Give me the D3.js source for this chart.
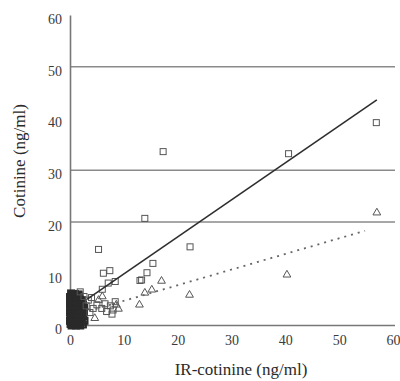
<!DOCTYPE html>
<html>
<head>
<meta charset="utf-8">
<script src="https://cdn.jsdelivr.net/npm/d3@7"></script>
<style>
  body { margin: 0; background: #fff; }
  svg { display: block; }
  text { font-family: "Liberation Serif", "DejaVu Serif", serif; fill: #333; }
</style>
</head>
<body>
<svg id="chart" width="400" height="381"></svg>
<script>
// axis ticks
const xTicks = [0, 10, 20, 30, 40, 50, 60];
const yTicks = [0, 10, 20, 30, 40, 50, 60];
const gridValues = [20, 30, 50];

// open squares (IR-cotinine, cotinine)
const squarePts = [
    [17.3, 33.6], [40.6, 33.2], [56.9, 39.2], [13.9, 20.7], [5.3, 14.7], [22.3, 15.2],
    [6.2, 10.1], [7.4, 10.6], [7.1, 8.2], [8.4, 8.5], [13.0, 8.7], [14.3, 10.2],
    [15.4, 12.0], [13.3, 8.8], [1.9, 6.5], [2.6, 5.6], [3.4, 4.9], [4.3, 3.3],
    [3.7, 2.5], [5.9, 3.3], [6.8, 2.7], [8.0, 3.0], [8.4, 4.6], [6.5, 4.2],
    [7.5, 3.8], [5.0, 4.0], [4.0, 5.4], [7.8, 2.2], [3.0, 3.8], [6.0, 7.0]
];

// open triangles
const trianglePts = [
    [57.0, 21.8], [40.3, 9.8], [22.2, 5.9], [17.0, 8.6], [15.2, 6.9], [13.9, 6.3],
    [12.9, 4.0], [5.3, 4.9], [4.6, 1.4], [8.6, 4.0], [6.0, 5.6], [9.0, 3.2]
];

// dense cluster near the origin
const clusterPts = [
    [0.1, 0.3], [0.4, 0.6], [0.8, 0.2], [1.2, 0.5], [1.6, 0.3], [2.0, 0.6],
    [0.2, 1.1], [0.6, 1.4], [1.0, 1.0], [1.4, 1.3], [1.8, 1.1], [2.2, 1.4],
    [0.1, 1.9], [0.5, 2.2], [0.9, 1.8], [1.3, 2.1], [1.7, 1.9], [2.1, 2.2],
    [0.3, 2.7], [0.7, 3.0], [1.1, 2.6], [1.5, 2.9], [1.9, 2.7], [2.3, 3.0],
    [0.1, 3.5], [0.5, 3.8], [0.9, 3.4], [1.3, 3.7], [1.7, 3.5], [2.1, 3.8],
    [0.3, 4.3], [0.7, 4.6], [1.1, 4.2], [1.5, 4.5], [1.9, 4.3], [0.2, 5.1],
    [0.6, 5.4], [1.0, 5.0], [1.4, 5.3], [1.8, 5.1], [0.4, 5.9], [0.9, 6.1],
    [1.3, 5.8], [0.0, 0.9], [0.0, 2.5], [0.0, 4.0], [0.0, 5.5], [2.4, 0.2],
    [2.5, 1.8], [2.6, 2.6], [2.4, 4.1], [2.7, 0.9], [0.3, 0.0], [1.1, 0.0],
    [1.9, 0.0], [2.6, 3.4], [2.2, 4.9], [1.6, 6.0], [0.5, 0.1], [1.5, 0.8],
    [0.3, 1.6], [1.2, 1.6], [2.0, 1.7], [0.6, 2.5], [1.6, 2.4], [0.4, 3.2],
    [1.2, 3.1], [2.0, 3.2], [0.8, 3.9], [1.7, 4.0], [0.5, 4.8], [1.3, 4.8],
    [2.0, 4.6], [0.8, 5.6], [1.7, 5.6], [0.2, 6.2]
];

// fitted lines: [x, y] end points
const solidFit = [[3.2, 5.1], [57.0, 43.6]];
const dottedFit = [[3.5, 2.8], [54.8, 18.3]];

const svg = d3.select("#chart");

const x = d3.scaleLinear().domain([0, 60]).range([70, 393]);
const y = d3.scaleLinear().domain([0, 60]).range([325.5, 15]);

// horizontal reference lines
svg.append("g")
    .selectAll("line")
    .data(gridValues)
    .join("line")
    .attr("x1", x(0))
    .attr("x2", 395)
    .attr("y1", d => y(d))
    .attr("y2", d => y(d))
    .style("stroke", "#8a8a8a")
    .style("stroke-width", 1.3);

// axes
const yAxis = svg.append("g")
    .attr("transform", `translate(${x(0)},0)`)
    .call(d3.axisLeft(y).tickValues(yTicks).tickSize(0).tickPadding(8).tickFormat(d3.format("d")));

const xAxis = svg.append("g")
    .attr("transform", `translate(0,${y(0)})`)
    .call(d3.axisBottom(x).tickValues(xTicks).tickSize(0).tickPadding(10).tickFormat(d3.format("d")));

[yAxis, xAxis].forEach(a => {
    a.select(".domain").style("stroke", "#777").style("stroke-width", 1.6);
    a.selectAll("text")
        .style("font-size", "14px")
        .style("fill", "#3a3a3a")
        .style("font-family", "'Liberation Serif', serif");
});
yAxis.selectAll("text").attr("dy", "0.6em");
xAxis.select(".domain").attr("d", `M${x(0)},0H395`);

// markers
const markerColor = "#555";

svg.append("g")
    .selectAll("rect")
    .data(clusterPts)
    .join("rect")
    .attr("x", d => x(d[0]) - 3)
    .attr("y", d => y(d[1]) - 3)
    .attr("width", 6)
    .attr("height", 6)
    .style("fill", "none")
    .style("stroke", "#2a2a2a")
    .style("stroke-width", 2);

svg.append("g")
    .selectAll("rect")
    .data(squarePts)
    .join("rect")
    .attr("x", d => x(d[0]) - 3)
    .attr("y", d => y(d[1]) - 3)
    .attr("width", 6)
    .attr("height", 6)
    .style("fill", "none")
    .style("stroke", markerColor)
    .style("stroke-width", 1);

const tri = d3.symbol().type(d3.symbolTriangle).size(26);
svg.append("g")
    .selectAll("path")
    .data(trianglePts)
    .join("path")
    .attr("d", tri)
    .attr("transform", d => `translate(${x(d[0])},${y(d[1])})`)
    .style("fill", "none")
    .style("stroke", markerColor)
    .style("stroke-width", 1);

// regression lines
const line = d3.line().x(d => x(d[0])).y(d => y(d[1]));

svg.append("path")
    .attr("d", line(solidFit))
    .style("fill", "none")
    .style("stroke", "#2e2e2e")
    .style("stroke-width", 1.6);

svg.append("path")
    .attr("d", line(dottedFit))
    .style("fill", "none")
    .style("stroke", "#666")
    .style("stroke-width", 1.8)
    .style("stroke-dasharray", "2,5");

// axis titles
svg.append("text")
    .attr("x", 241)
    .attr("y", 375)
    .attr("text-anchor", "middle")
    .style("font-size", "17px")
    .style("fill", "#2a2a2a")
    .text("IR-cotinine (ng/ml)");

svg.append("text")
    .attr("transform", "translate(25,161) rotate(-90)")
    .attr("text-anchor", "middle")
    .style("font-size", "17px")
    .style("fill", "#2a2a2a")
    .text("Cotinine (ng/ml)");
</script>
</body>
</html>
